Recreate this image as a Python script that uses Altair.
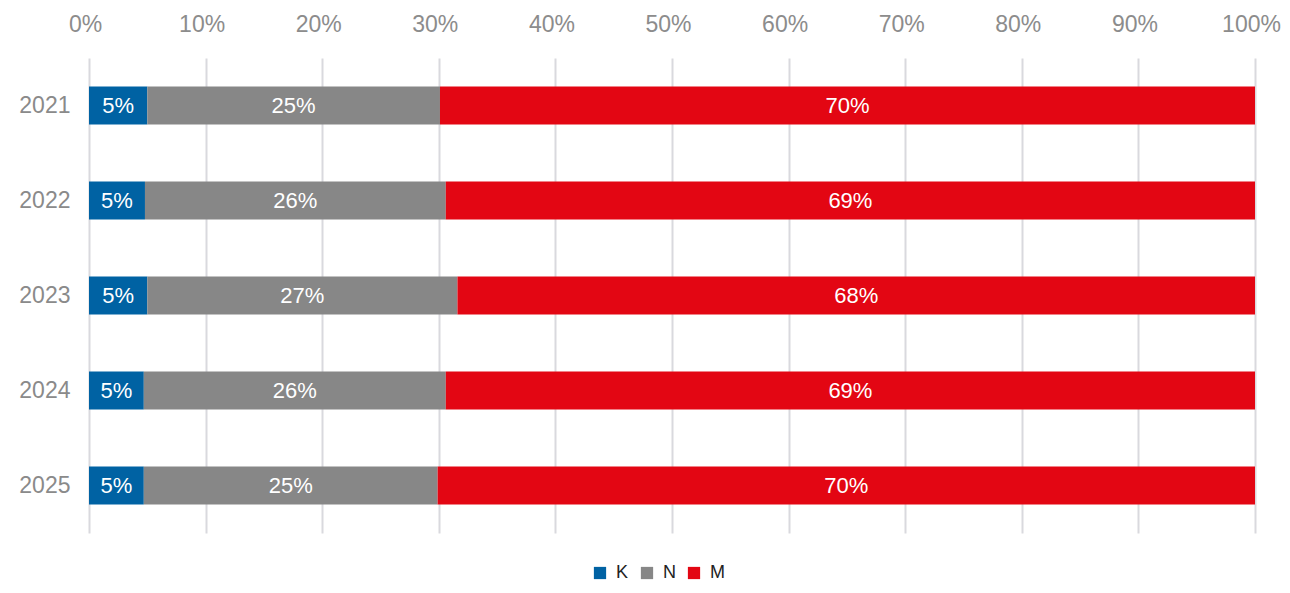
import altair as alt
import pandas as pd

years = ["2021", "2022", "2023", "2024", "2025"]
k_vals = [5.0, 4.8, 5.0, 4.7, 4.7]
n_vals = [25.1, 25.8, 26.6, 25.9, 25.2]
m_vals = [69.9, 69.4, 68.4, 69.4, 70.1]
series = ["K", "N", "M"]
colors = ["#0062a3", "#878787", "#e30613"]
ticks = [0, 10, 20, 30, 40, 50, 60, 70, 80, 90, 100]

rows = []
for i, y in enumerate(years):
    for j, (s, vals) in enumerate(zip(series, [k_vals, n_vals, m_vals])):
        rows.append({"year": y, "series": s, "order": j, "value": vals[i]})
df = pd.DataFrame(rows)

FONT = "Liberation Sans"

base = alt.Chart(df).transform_stack(
    stack="value", groupby=["year"], as_=["x0", "x1"],
    sort=[alt.SortField("order", order="ascending")]
).transform_calculate(
    mid="(datum.x0 + datum.x1) / 2",
    lbl="round(datum.value) + '%'"
)

yenc = alt.Y("year:N", sort=years,
             scale=alt.Scale(paddingInner=0.6, paddingOuter=0.3),
             axis=alt.Axis(title=None, labelFontSize=23, labelColor="#8a8a8a",
                           labelPadding=19, domain=False, ticks=False, grid=False,
                           labelFont=FONT))

bars = base.mark_bar().encode(
    x=alt.X("x0:Q", scale=alt.Scale(domain=[0, 100], nice=False),
            axis=alt.Axis(orient="top", title=None, values=ticks,
                          labelExpr="datum.value + '%'", labelFontSize=23,
                          labelColor="#8c8c8c", labelPadding=22, labelOffset=-4,
                          labelFlush=False,
                          domain=False, ticks=False, grid=True,
                          gridColor="#d9d9de", gridWidth=2, labelFont=FONT)),
    x2="x1:Q",
    y=yenc,
    color=alt.Color("series:N", sort=series,
                    scale=alt.Scale(domain=series, range=colors),
                    legend=alt.Legend(title=None, orient="none", direction="horizontal",
                                      legendX=502, legendY=506, symbolType="square",
                                      symbolSize=150, symbolStrokeWidth=0,
                                      labelFontSize=18, labelColor="#222222",
                                      labelOffset=7, columnPadding=9, labelFont=FONT)),
)

text = base.mark_text(color="white", fontSize=22, font=FONT).encode(
    x=alt.X("mid:Q"),
    y=alt.Y("year:N", sort=years),
    text="lbl:N",
)

chart = alt.layer(bars, text).properties(
    width=1166, height=475,
    padding={"left": 81, "top": 50, "right": 27, "bottom": 52},
    autosize=alt.AutoSizeParams(type="none"),
).configure_view(stroke=None)

chart.save("out.html", embed_options={"renderer": "svg", "actions": False})
